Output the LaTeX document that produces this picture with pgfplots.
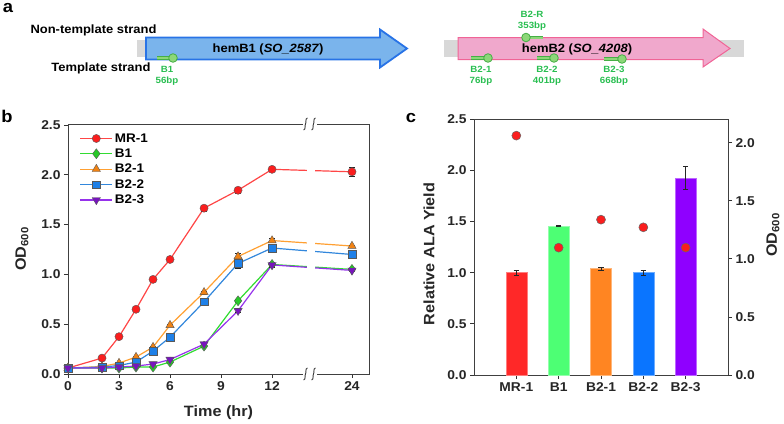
\documentclass[border=0pt]{standalone}
\usepackage{fontspec}
\setmainfont{Liberation Sans}[FakeStretch=1.08]
\usepackage{pgfplots}
\pgfplotsset{compat=1.18}
\newcommand\fs[1]{\bfseries\fontsize{#1bp}{#1bp}\selectfont}
\newcommand\tl[1]{\textbf{\fontsize{12.8bp}{12.8bp}\selectfont\bfseries #1}}
\definecolor{arrowblue}{RGB}{122,180,236}
\definecolor{arrowblueedge}{RGB}{40,115,230}
\definecolor{arrowpink}{RGB}{240,168,204}
\definecolor{arrowpinkedge}{RGB}{240,100,150}
\definecolor{gbar}{RGB}{216,216,216}
\definecolor{prlight}{RGB}{140,215,120}
\definecolor{prdark}{RGB}{70,175,70}
\definecolor{prtext}{RGB}{40,190,80}
\definecolor{lmr}{RGB}{255,70,70}\definecolor{fmr}{RGB}{250,30,30}
\definecolor{lb1}{RGB}{50,220,50}\definecolor{fb1}{RGB}{40,200,40}
\definecolor{lb21}{RGB}{255,160,50}\definecolor{fb21}{RGB}{240,130,20}
\definecolor{lb22}{RGB}{50,135,220}\definecolor{fb22}{RGB}{30,128,232}
\definecolor{lb23}{RGB}{150,50,235}\definecolor{fb23}{RGB}{120,20,190}
\definecolor{cmr}{RGB}{255,40,40}
\definecolor{cb1}{RGB}{77,255,116}
\definecolor{cb21}{RGB}{255,133,34}
\definecolor{cb22}{RGB}{10,117,255}
\definecolor{cb23}{RGB}{143,0,255}
\pgfplotsset{
  ebar/.style={error bars/.cd, y dir=both, y explicit,
    error bar style={black!85, line width=0.6bp},
    error mark options={rotate=90, mark size=2.6bp, black!85, line width=0.6bp}},
  legend image code/.code={\draw[mark repeat=2,mark phase=2] plot coordinates {(0bp,0bp) (16bp,0bp) (32bp,0bp)};},
  btick/.style={
    /pgf/number format/assume math mode=true,
    yticklabel={\tl{\pgfmathprintnumber[fixed,fixed zerofill,precision=1,assume math mode=true]{\tick}}},
    tick label style={font=\fs{12.8}, text=black!85},
  }
}
\begin{document}
\begin{tikzpicture}
\path[use as bounding box] (0,0) rectangle (784bp,-424bp);
\begin{scope}[x=1bp,y=-1bp]
\node[font=\fs{17}] at (8,8) {a};
\node[font=\fs{17}] at (7,116) {b};
\node[font=\fs{17}] at (411,118) {c};
% hemB1
\fill[gbar] (137,40) rectangle (395,57);
\draw[arrowblueedge, line width=1.8bp, fill=arrowblue, line join=miter]
  (146,37.5) -- (380,37.5) -- (380,29.5) -- (407,48.5) -- (380,67.5) -- (380,59.5) -- (146,59.5) -- cycle;
\node[font=\fs{12}] at (268,49) {hemB1 (\textit{SO\_2587})};
\node[font=\fs{12}, anchor=west] at (27,30) {Non-template strand};
\node[font=\fs{12}, anchor=east] at (154,68) {Template strand};
% hemB2
\fill[gbar] (444,40) rectangle (744,57);
\draw[arrowpinkedge, line width=1bp, fill=arrowpink, line join=miter]
  (458,37.5) -- (703,37.5) -- (703,29) -- (730,48.5) -- (703,67) -- (703,59.5) -- (458,59.5) -- cycle;
\node[font=\fs{12}] at (577,49) {hemB2 (\textit{SO\_4208})};
% primers
\foreach \xa/\xb/\yy in {157/173/58, 471/488/58, 537/554/58, 604/622/59, 543/526/37.5}{
  \draw[prdark, line width=3.6bp] (\xa,\yy) -- (\xb,\yy);
  \draw[prlight, line width=2bp] (\xa,\yy) -- (\xb,\yy);
  \draw[prdark, fill=prlight, line width=0.8bp] (\xb,\yy) circle (4.3);
}
\foreach \xx/\na/\nb in {167/B1/56bp, 481/B2-1/76bp, 547/B2-2/401bp, 614/B2-3/668bp}{
  \node[font=\fs{9}, text=prtext] at (\xx,69.5) {\na};
  \node[font=\fs{9}, text=prtext] at (\xx,81.5) {\nb};
}
\node[font=\fs{9}, text=prtext] at (532,14) {B2-R};
\node[font=\fs{9}, text=prtext] at (532,26) {353bp};
\end{scope}

% ---------------- panel b
\begin{axis}[
  at={(68bp,-374bp)}, anchor=south west, scale only axis, width=301bp, height=250bp,
  xmin=0, xmax=17.7, ymin=0, ymax=2.51,
  xtick={0,3,6,9,12,16.7}, xticklabels={\tl{0},\tl{3},\tl{6},\tl{9},\tl{12},\tl{24}},
  ytick={0,0.5,1,1.5,2,2.5},
  btick,
  tick pos=left, tick align=outside, major tick length=4bp,
  tick style={line width=0.8bp, black!80},
  axis line style={line width=1bp, black!75},
  xlabel={Time (hr)}, ylabel={OD\textsubscript{600}},
  label style={font=\fs{15}, text=black!85},
  xlabel style={at={(axis description cs:0.5,-0.156)}, anchor=center},
  ylabel style={at={(axis description cs:-0.153,0.5)}, anchor=center},
  legend style={at={(0.035,0.975)}, anchor=north west, draw=none, fill=none,
    font=\fs{12.5}, row sep=1.2bp, inner sep=1bp},
  legend cell align=left,
  every axis plot/.append style={line width=1.2bp},
]
\addplot[lmr, mark=*, mark options={mark size=4.1bp, fill=fmr, draw=black!65, line width=0.4bp}, ebar]
 coordinates {(0,0.06)+-(0,0.005) (2,0.16)+-(0,0.01) (3,0.375)+-(0,0.01) (4,0.65)+-(0,0.01) (5,0.95)+-(0,0.015)
 (6,1.15)+-(0,0.015) (8,1.665)+-(0,0.03) (10,1.845)+-(0,0.03) (12,2.055)+-(0,0.02) (16.7,2.03)+-(0,0.05)};
\addlegendentry{MR-1}
\addplot[lb1, mark=diamond*, mark options={mark size=5bp, fill=fb1, draw=black!65, line width=0.4bp}, ebar]
 coordinates {(0,0.06)+-(0,0.005) (2,0.06)+-(0,0.005) (3,0.06)+-(0,0.005) (4,0.07)+-(0,0.005) (5,0.07)+-(0,0.005)
 (6,0.12)+-(0,0.01) (8,0.28)+-(0,0.01) (10,0.735)+-(0,0.02) (12,1.10)+-(0,0.02) (16.7,1.05)+-(0,0.01)};
\addlegendentry{B1}
\addplot[lb21, mark=triangle*, mark options={mark size=4.8bp, fill=fb21, draw=black!65, line width=0.4bp}, ebar]
 coordinates {(0,0.06)+-(0,0.005) (2,0.075)+-(0,0.005) (3,0.11)+-(0,0.01) (4,0.17)+-(0,0.01) (5,0.27)+-(0,0.01)
 (6,0.49)+-(0,0.01) (8,0.82)+-(0,0.015) (10,1.18)+-(0,0.03) (12,1.34)+-(0,0.02) (16.7,1.285)+-(0,0.01)};
\addlegendentry{B2-1}
\addplot[lb22, mark=square*, mark options={mark size=3.8bp, fill=fb22, draw=black!65, line width=0.4bp}, ebar]
 coordinates {(0,0.06)+-(0,0.005) (2,0.07)+-(0,0.005) (3,0.085)+-(0,0.005) (4,0.12)+-(0,0.01) (5,0.23)+-(0,0.01)
 (6,0.37)+-(0,0.01) (8,0.725)+-(0,0.015) (10,1.11)+-(0,0.05) (12,1.265)+-(0,0.02) (16.7,1.20)+-(0,0.01)};
\addlegendentry{B2-2}
\addplot[lb23, mark=triangle*, mark options={mark size=4.8bp, rotate=180, fill=fb23, draw=black!65, line width=0.4bp}, ebar]
 coordinates {(0,0.06)+-(0,0.005) (2,0.06)+-(0,0.005) (3,0.07)+-(0,0.005) (4,0.08)+-(0,0.005) (5,0.10)+-(0,0.005)
 (6,0.145)+-(0,0.01) (8,0.30)+-(0,0.01) (10,0.635)+-(0,0.02) (12,1.095)+-(0,0.02) (16.7,1.04)+-(0,0.01)};
\addlegendentry{B2-3}
\end{axis}
% axis break
\begin{scope}[x=1bp,y=-1bp]
\fill[white] (306.7,127) rectangle (314.5,371);
\fill[white] (303,119) rectangle (316.5,129);
\fill[white] (303,369) rectangle (316.5,379);
\foreach \yy in {124,374}{
  \foreach \xx in {305.5,313.5}{
    \draw[black!75, line width=0.9bp] (\xx+2,\yy-6) .. controls (\xx-0.5,\yy-6) and (\xx+1,\yy-1) .. (\xx,\yy)
       .. controls (\xx-1,\yy+1) and (\xx+0.5,\yy+6) .. (\xx-2,\yy+6);
  }
}
\end{scope}

% ---------------- panel c
\begin{axis}[
  at={(474bp,-375bp)}, anchor=south west, scale only axis, width=254bp, height=256bp,
  xmin=-1, xmax=5, ymin=0, ymax=2.5,
  xtick={0,1,2,3,4}, xticklabels={\tl{MR-1},\tl{B1},\tl{B2-1},\tl{B2-2},\tl{B2-3}},
  ytick={0,0.5,1,1.5,2,2.5},
  btick,
  tick pos=left, tick align=outside, major tick length=4bp,
  tick style={line width=0.8bp, black!80},
  axis line style={line width=1bp, black!75},
  ylabel={Relative ALA Yield},
  label style={font=\fs{15}, text=black!85},
  ylabel style={at={(axis description cs:-0.177,0.473)}, anchor=center},
]
\addplot[ybar, bar width=21bp, fill=cmr, draw=cmr!60!white, line width=0.5bp, ebar] coordinates {(0,1.0)+-(0,0.025)};
\addplot[ybar, bar width=21bp, fill=cb1, draw=cb1!60!white, line width=0.5bp, ebar] coordinates {(1,1.455)+-(0,0.005)};
\addplot[ybar, bar width=21bp, fill=cb21, draw=cb21!60!white, line width=0.5bp, ebar] coordinates {(2,1.04)+-(0,0.015)};
\addplot[ybar, bar width=21bp, fill=cb22, draw=cb22!60!white, line width=0.5bp, ebar] coordinates {(3,1.0)+-(0,0.025)};
\addplot[ybar, bar width=21bp, fill=cb23, draw=cb23!60!white, line width=0.5bp, ebar] coordinates {(4,1.925)+-(0,0.115)};
\end{axis}
\begin{axis}[
  at={(474bp,-375bp)}, anchor=south west, scale only axis, width=254bp, height=256bp,
  xmin=-1, xmax=5, ymin=0, ymax=2.203,
  axis y line*=right, axis x line=none,
  ytick={0,0.5,1,1.5,2},
  btick,
  tick align=outside, major tick length=4bp,
  tick style={line width=0.8bp, black!80},
  axis line style={line width=1bp, black!75},
  ylabel={OD\textsubscript{600}},
  label style={font=\fs{15}, text=black!85},
  ylabel style={at={(axis description cs:1.177,0.547)}, anchor=center},
]
\addplot[only marks, mark=*, mark options={mark size=4.5bp, fill=fmr, draw=black!60, line width=0.5bp}]
 coordinates {(0,2.06) (1,1.096) (2,1.337) (3,1.271) (4,1.096)};
\end{axis}
\end{tikzpicture}
\end{document}
